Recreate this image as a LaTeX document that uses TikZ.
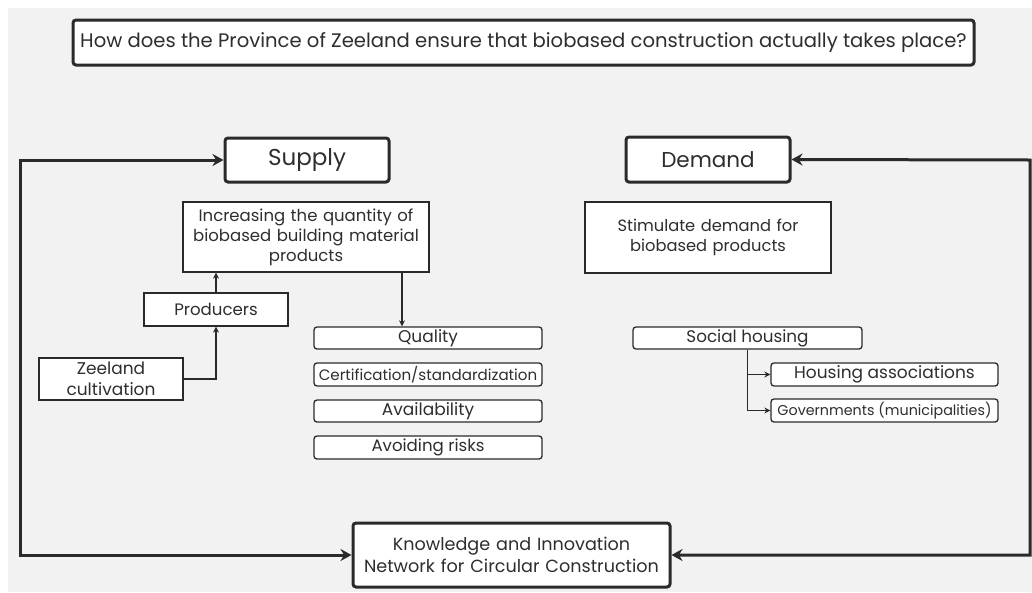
\documentclass[tikz,border=0pt]{standalone}
\usepackage{fontspec}
\setmainfont{Poppins}
\usetikzlibrary{arrows.meta,calc}
\definecolor{bg}{HTML}{F2F2F2}
\definecolor{ink}{HTML}{2E2E2E}
\definecolor{edge}{HTML}{2A2A2A}
\tikzset{
  fs/.style={font={\pgfmathsetmacro\mylsk{#1*1.22}\fontsize{#1}{\mylsk}\selectfont}},
  base/.style={draw=edge, fill=white, text=ink, inner sep=0pt, align=center, anchor=center},
  thickbox/.style={base, line width=3pt, rounded corners=3pt},
  plainbox/.style={base, line width=1.3pt},
  pillbox/.style={base, line width=1.3pt, rounded corners=3pt},
  loop/.style={draw=edge, line width=3pt, {Stealth[length=11pt,width=12pt]}-{Stealth[length=11pt,width=12pt]}},
  link/.style={draw=edge, line width=1.4pt, -{Stealth[length=6pt,width=6pt]}},
}
\begin{document}
\begin{tikzpicture}[x=1pt,y=-1pt]
\useasboundingbox (0,0) rectangle (1032,592);
\fill[white] (0,0) rectangle (1032,592);
\fill[bg] (8,8) rectangle (1032,592);

\node[thickbox, minimum width=901pt, minimum height=45pt, fs=19.6] (title) at (523.5,42.5)
  {How does the Province of Zeeland ensure that biobased construction actually takes place?};

\node[thickbox, minimum width=164pt, minimum height=44pt, fs=23] (supply) at (307,160) {Supply};
\node[thickbox, minimum width=164pt, minimum height=45pt, fs=21.5] (demand) at (708,159.5) {Demand};

\node[plainbox, minimum width=246pt, minimum height=70pt, text width=240pt, fs=16.5] (incr) at (306,237)
  {Increasing the quantity of\\biobased building material\\products};
\node[plainbox, minimum width=144pt, minimum height=33pt, fs=16.6] (prod) at (216,309.5) {Producers};
\node[plainbox, minimum width=144pt, minimum height=42pt, text width=140pt, fs=17] (zeel) at (111,379)
  {Zeeland\\cultivation};

\node[pillbox, minimum width=228pt, minimum height=22pt, fs=17] (qual) at (428,338) {Quality};
\node[pillbox, minimum width=228pt, minimum height=23pt, fs=15.1] (cert) at (428,374.5) {Certification/standardization};
\node[pillbox, minimum width=228pt, minimum height=22pt, fs=17] (avail) at (428,411) {Availability};
\node[pillbox, minimum width=228pt, minimum height=23pt, fs=16.6] (avoid) at (428,447.5) {Avoiding risks};

\node[plainbox, minimum width=246pt, minimum height=71pt, text width=240pt, fs=16.3] (stim) at (708,237.5)
  {Stimulate demand for\\biobased products};
\node[pillbox, minimum width=229pt, minimum height=22pt, fs=16.8] (social) at (747.5,338) {Social housing};
\node[pillbox, minimum width=227pt, minimum height=23pt, fs=17] (hous) at (884.5,374.5) {Housing associations};
\node[pillbox, minimum width=227pt, minimum height=23pt, fs=14.3] (gov) at (884.5,410.5) {Governments (municipalities)};

\node[thickbox, minimum width=317pt, minimum height=64pt, text width=312pt, fs=17.6] (know) at (511.5,555)
  {Knowledge and Innovation\\Network for Circular Construction};

\coordinate (lcorner) at (20,160);
\coordinate (rcorner) at (1030,160);
\draw[loop] (supply.west) -- (lcorner) |- (know.west);
\draw[loop] (demand.east) -- (rcorner) |- (know.east);

\draw[link] (prod.north) -- (prod.north |- incr.south);
\draw[link] (zeel.east) -| (prod.south);
\coordinate (incrdrop) at (402,0);
\draw[link] (incr.south -| incrdrop) -- (qual.north -| incrdrop);
\draw[link] (social.south) |- (hous.west);
\draw[link] (social.south) |- (gov.west);
\end{tikzpicture}
\end{document}
